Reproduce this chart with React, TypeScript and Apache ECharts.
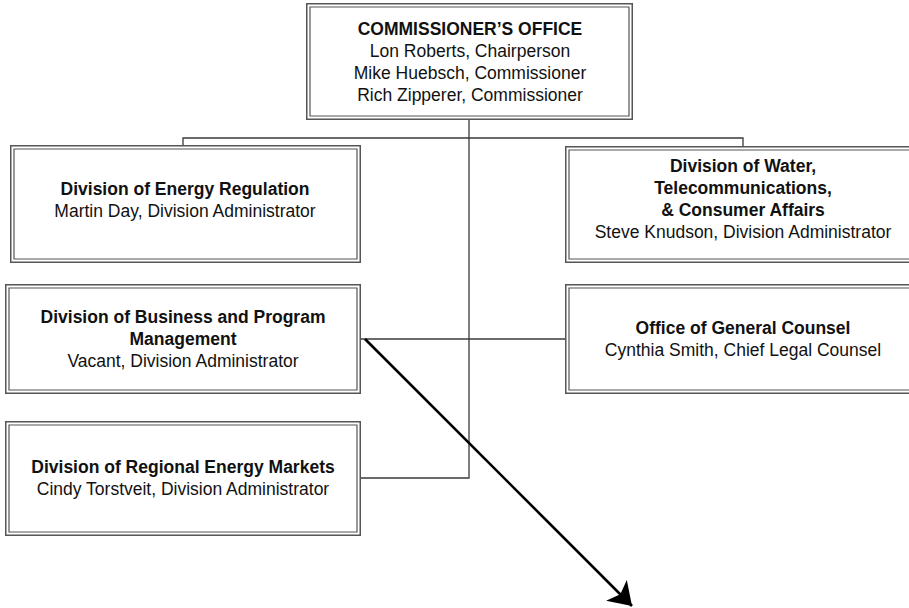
import React, { useEffect, useRef } from "react";
import * as echarts from "echarts";

// ---- content ----
const unitTitles: string[][] = [
  ["COMMISSIONER\u2019S OFFICE"],
  ["Division of Energy Regulation"],
  ["Division of Water,", "Telecommunications,", "& Consumer Affairs"],
  ["Division of Business and Program", "Management"],
  ["Office of General Counsel"],
  ["Division of Regional Energy Markets"],
];
const unitPeople: string[][] = [
  ["Lon Roberts, Chairperson", "Mike Huebsch, Commissioner", "Rich Zipperer, Commissioner"],
  ["Martin Day, Division Administrator"],
  ["Steve Knudson, Division Administrator"],
  ["Vacant, Division Administrator"],
  ["Cynthia Smith, Chief Legal Counsel"],
  ["Cindy Torstveit, Division Administrator"],
];

// ---- layout (page units) ----
const boxLayout = [
  { x: 306, y: 3, w: 327, h: 117, cx: 470, cy: 62 },
  { x: 10, y: 145, w: 351, h: 118, cx: 185, cy: 200 },
  { x: 565, y: 146, w: 380, h: 117, cx: 743, cy: 199 },
  { x: 5, y: 284, w: 356, h: 110, cx: 183, cy: 339 },
  { x: 565, y: 284, w: 380, h: 110, cx: 743, cy: 339 },
  { x: 5, y: 421, w: 356, h: 115, cx: 183, cy: 478 },
];
const connectorPaths: number[][][] = [
  [[469, 120], [469, 478], [361, 478]],
  [[183, 145], [183, 138], [743, 138], [743, 146]],
  [[361, 339], [565, 339]],
];
const arrowPath: number[][] = [[365, 339], [632, 606]];

const FONT = "'Liberation Sans', Arial, sans-serif";
const FS = 17.5;
const LH = 21.7;

export default function App() {
  const ref = useRef<HTMLDivElement>(null);
  useEffect(() => {
    document.body.style.margin = "0";
    const chart = echarts.init(ref.current!, null, { renderer: "svg" });
    const option: any = {
      animation: false,
      backgroundColor: "#ffffff",
      grid: { left: 0, right: 0, top: 0, bottom: 0 },
      xAxis: { type: "value", min: 0, max: 909, show: false },
      yAxis: { type: "value", min: 0, max: 608, inverse: true, show: false },
      series: [
        {
          type: "lines",
          coordinateSystem: "cartesian2d",
          polyline: true,
          silent: true,
          lineStyle: { color: "#3a3a3a", width: 1.3, opacity: 1 },
          data: connectorPaths.map((c) => ({ coords: c })),
          z: 1,
        },
        {
          type: "custom",
          coordinateSystem: "cartesian2d",
          silent: true,
          clip: false,
          data: boxLayout.map((_, i) => [i]),
          z: 2,
          renderItem: (params: any, api: any) => {
            const i = api.value(0);
            const b = boxLayout[i];
            const p1 = api.coord([b.x, b.y]);
            const p2 = api.coord([b.x + b.w, b.y + b.h]);
            const c = api.coord([b.cx, b.cy]);
            const w = p2[0] - p1[0];
            const h = p2[1] - p1[1];
            const lines: { t: string; bold: boolean }[] = [];
            unitTitles[i].forEach((t) => lines.push({ t, bold: true }));
            unitPeople[i].forEach((t) => lines.push({ t, bold: false }));
            const n = lines.length;
            const children: any[] = [
              {
                type: "rect",
                shape: { x: p1[0] + 0.75, y: p1[1] + 0.75, width: w - 1.5, height: h - 1.5 },
                style: { fill: "#ffffff", stroke: "#555555", lineWidth: 1.5 },
              },
              {
                type: "rect",
                shape: { x: p1[0] + 4, y: p1[1] + 4, width: w - 8, height: h - 8 },
                style: { fill: "none", stroke: "#555555", lineWidth: 1.2 },
              },
            ];
            lines.forEach((ln, k) => {
              children.push({
                type: "text",
                style: {
                  x: c[0],
                  y: c[1] + (k - (n - 1) / 2) * LH,
                  text: ln.t,
                  fill: "#111111",
                  font: `${ln.bold ? "bold " : ""}${FS}px ${FONT}`,
                  align: "center",
                  verticalAlign: "middle",
                },
              });
            });
            return { type: "group", children };
          },
        },
        {
          type: "lines",
          coordinateSystem: "cartesian2d",
          silent: true,
          symbol: ["none", "arrow"],
          symbolSize: [17, 22],
          lineStyle: { color: "#000000", width: 2.6, opacity: 1 },
          data: [{ coords: arrowPath }],
          z: 3,
        },
      ],
    };
    chart.setOption(option);
    return () => chart.dispose();
  }, []);
  return <div ref={ref} style={{ width: 909, height: 608 }} />;
}
